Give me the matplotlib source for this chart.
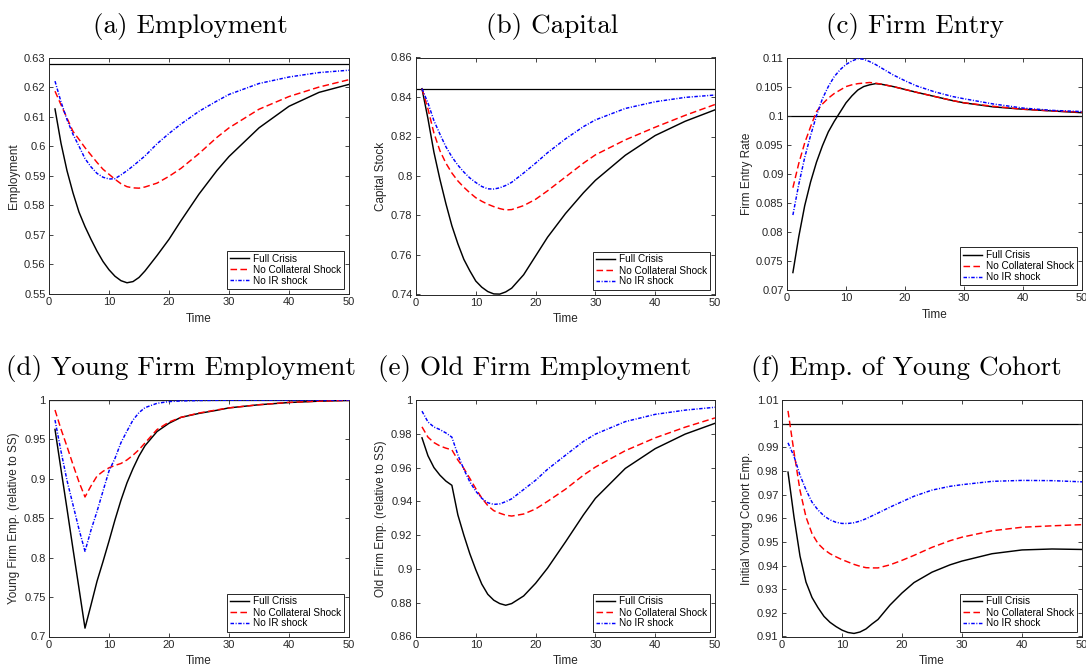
import matplotlib
matplotlib.use('Agg')
import matplotlib.pyplot as plt
from matplotlib.ticker import FuncFormatter

# ---------------- data ----------------
T = [1, 2, 3, 4, 5, 6, 7, 8, 9, 10, 11, 12, 13, 14, 15, 16, 18, 20, 22, 25, 28, 30, 35, 40, 45, 50]

# (a) Employment
emp_full = [0.6126, 0.6010, 0.5917, 0.5842, 0.5777, 0.5728, 0.5685, 0.5645, 0.5610, 0.5582, 0.5560, 0.5545, 0.5538,
            0.5542, 0.5556, 0.5578, 0.5630, 0.5685, 0.5748, 0.5838, 0.5918, 0.5965, 0.6062, 0.6135, 0.6182, 0.6209]
emp_nocol = [0.6186, 0.6140, 0.6095, 0.6050, 0.6023, 0.5995, 0.5970, 0.5945, 0.5922, 0.5905, 0.5888, 0.5873, 0.5863,
             0.5859, 0.5858, 0.5862, 0.5875, 0.5898, 0.5925, 0.5975, 0.6030, 0.6062, 0.6125, 0.6168, 0.6200, 0.6225]
emp_noir = [0.6220, 0.6150, 0.6090, 0.6040, 0.6000, 0.5958, 0.5930, 0.5908, 0.5895, 0.5889, 0.5890, 0.5903, 0.5917,
            0.5933, 0.5950, 0.5967, 0.6008, 0.6043, 0.6075, 0.6118, 0.6153, 0.6175, 0.6212, 0.6234, 0.6249, 0.6257]

# (b) Capital
cap_full = [0.8442, 0.8290, 0.8120, 0.7983, 0.7860, 0.7748, 0.7657, 0.7578, 0.7520, 0.7468, 0.7437, 0.7415, 0.7403,
            0.7402, 0.7413, 0.7432, 0.7500, 0.7595, 0.7690, 0.7810, 0.7915, 0.7978, 0.8105, 0.8205, 0.8277, 0.8335]
cap_nocol = [0.8442, 0.8340, 0.8217, 0.8128, 0.8065, 0.8015, 0.7975, 0.7943, 0.7915, 0.7890, 0.7872, 0.7857, 0.7845,
             0.7835, 0.7828, 0.7830, 0.7850, 0.7882, 0.7925, 0.7995, 0.8065, 0.8107, 0.8183, 0.8247, 0.8307, 0.8362]
cap_noir = [0.8442, 0.8370, 0.8280, 0.8212, 0.8148, 0.8097, 0.8055, 0.8020, 0.7990, 0.7967, 0.7947, 0.7935, 0.7934,
            0.7940, 0.7952, 0.7968, 0.8015, 0.8065, 0.8118, 0.8188, 0.8250, 0.8284, 0.8342, 0.8376, 0.8398, 0.8410]

# (c) Firm Entry
ent_full = [0.0730, 0.0792, 0.0845, 0.0886, 0.0920, 0.0948, 0.0972, 0.0990, 0.1006, 0.1022, 0.1034, 0.1044, 0.1050,
            0.1053, 0.1055, 0.1054, 0.1050, 0.1045, 0.1040, 0.1033, 0.1026, 0.1022, 0.1015, 0.1011, 0.1008, 0.1005]
ent_nocol = [0.0876, 0.0918, 0.0953, 0.0981, 0.1007, 0.1020, 0.1030, 0.1038, 0.1044, 0.1050, 0.1053, 0.1055, 0.1056,
             0.1057, 0.1056, 0.1054, 0.1050, 0.1045, 0.1040, 0.1033, 0.1026, 0.1022, 0.1016, 0.1011, 0.1008, 0.1006]
ent_noir = [0.0829, 0.0882, 0.0928, 0.0966, 0.1000, 0.1029, 0.1050, 0.1067, 0.1079, 0.1088, 0.1094, 0.1098, 0.1097,
            0.1093, 0.1088, 0.1082, 0.1070, 0.1060, 0.1051, 0.1041, 0.1033, 0.1029, 0.1020, 0.1013, 0.1009, 0.1007]

# (d) Young Firm Employment
yng_full = [0.9627, 0.912, 0.862, 0.811, 0.761, 0.7106, 0.740, 0.770, 0.795, 0.821, 0.848, 0.873, 0.895,
            0.913, 0.929, 0.942, 0.960, 0.9705, 0.978, 0.983, 0.987, 0.990, 0.994, 0.9968, 0.9985, 0.9995]
yng_nocol = [0.9873, 0.963, 0.941, 0.918, 0.896, 0.877, 0.891, 0.9035, 0.9095, 0.914, 0.917, 0.9195, 0.924,
             0.930, 0.937, 0.9455, 0.9625, 0.972, 0.978, 0.9835, 0.9875, 0.990, 0.994, 0.997, 0.9985, 0.9995]
yng_noir = [0.9746, 0.935, 0.898, 0.867, 0.836, 0.808, 0.835, 0.8586, 0.8845, 0.910, 0.926, 0.946, 0.9606,
            0.9746, 0.984, 0.9903, 0.9958, 0.998, 0.9988, 0.9993, 0.9996, 0.9997, 0.9998, 0.9999, 0.9999, 0.9999]

# (e) Old Firm Employment
old_full = [0.9776, 0.967, 0.960, 0.9555, 0.952, 0.9495, 0.932, 0.920, 0.909, 0.8995, 0.891, 0.885, 0.8815,
            0.8795, 0.8785, 0.8795, 0.884, 0.8915, 0.9005, 0.9160, 0.9320, 0.9418, 0.9595, 0.9712, 0.9798, 0.9862]
old_nocol = [0.9841, 0.978, 0.9748, 0.9728, 0.9715, 0.9705, 0.9645, 0.9595, 0.9536, 0.9475, 0.9420, 0.9375, 0.9345,
             0.9330, 0.9318, 0.9313, 0.9325, 0.9355, 0.9400, 0.9472, 0.9555, 0.9603, 0.9700, 0.9776, 0.9839, 0.9894]
old_noir = [0.9934, 0.987, 0.9840, 0.9825, 0.9805, 0.9780, 0.9675, 0.9590, 0.9515, 0.9460, 0.9418, 0.9392, 0.9382,
            0.9385, 0.9398, 0.9415, 0.9470, 0.9525, 0.9590, 0.9673, 0.9755, 0.9798, 0.9872, 0.9915, 0.9940, 0.9957]

# (f) Emp. of Young Cohort
coh_full = [0.9795, 0.9605, 0.9440, 0.9330, 0.9265, 0.9222, 0.9185, 0.9160, 0.9142, 0.9127, 0.9117, 0.9113, 0.9119,
            0.9132, 0.9153, 0.9172, 0.9233, 0.9284, 0.9328, 0.9372, 0.9403, 0.9419, 0.9450, 0.9466, 0.9470, 0.9468]
coh_nocol = [1.0054, 0.9880, 0.9718, 0.9605, 0.9535, 0.9493, 0.9468, 0.9450, 0.9437, 0.9425, 0.9415, 0.9405, 0.9397,
             0.9391, 0.9390, 0.9390, 0.9403, 0.9422, 0.9443, 0.9477, 0.9505, 0.9520, 0.9547, 0.9562, 0.9568, 0.9573]
coh_noir = [0.9919, 0.9862, 0.9782, 0.9720, 0.9668, 0.9635, 0.9610, 0.9593, 0.9583, 0.9578, 0.9578, 0.9581, 0.9588,
            0.9598, 0.9610, 0.9622, 0.9647, 0.9670, 0.9693, 0.9719, 0.9735, 0.9742, 0.9756, 0.9760, 0.9759, 0.9754]

steady_state = [0.6277, 0.8442, 0.1, 1.0, None, 1.0]

titles = ["(a) Employment", "(b) Capital", "(c) Firm Entry",
          "(d) Young Firm Employment", "(e) Old Firm Employment", "(f) Emp. of Young Cohort"]
ylabels = ["Employment", "Capital Stock", "Firm Entry Rate",
           "Young Firm Emp. (relative to SS)", "Old Firm Emp. (relative to SS)", "Initial Young Cohort Emp."]
legend_labels = ["Full Crisis", "No Collateral Shock", "No IR shock"]
xticks = [0, 10, 20, 30, 40, 50]
yticks = [
    [0.55, 0.56, 0.57, 0.58, 0.59, 0.60, 0.61, 0.62, 0.63],
    [0.74, 0.76, 0.78, 0.80, 0.82, 0.84, 0.86],
    [0.07, 0.075, 0.08, 0.085, 0.09, 0.095, 0.10, 0.105, 0.11],
    [0.70, 0.75, 0.80, 0.85, 0.90, 0.95, 1.00],
    [0.86, 0.88, 0.90, 0.92, 0.94, 0.96, 0.98, 1.00],
    [0.91, 0.92, 0.93, 0.94, 0.95, 0.96, 0.97, 0.98, 0.99, 1.00, 1.01],
]
series = [
    (emp_full, emp_nocol, emp_noir),
    (cap_full, cap_nocol, cap_noir),
    (ent_full, ent_nocol, ent_noir),
    (yng_full, yng_nocol, yng_noir),
    (old_full, old_nocol, old_noir),
    (coh_full, coh_nocol, coh_noir),
]

# ---------------- style ----------------
W, H = 1086, 666
plt.rcParams['font.family'] = ['Liberation Sans', 'DejaVu Sans']
plt.rcParams['font.size'] = 8
dark = '#262626'

fig = plt.figure(figsize=(W / 100, H / 100), dpi=100)

# axes rectangles in pixels: x0, x1, ytop, ybottom
rects = [
    (49, 349, 57.5, 294),
    (416, 715, 57.5, 294.5),
    (787, 1082, 57.5, 290),
    (49, 349, 400, 636.5),
    (416, 715, 400, 636.5),
    (782, 1082, 400, 636.5),
]
title_pos = [(190.5, 33), (552, 33), (915, 33), (181, 375), (535, 375), (906, 375)]
ylabel_x = [14, 381, 747, 14, 381, 747]
xlabel_y = [319, 319, 315, 661, 661, 661]

for i in range(6):
    x0, x1, yt, yb = rects[i]
    ax = fig.add_axes([x0 / W, 1 - yb / H, (x1 - x0) / W, (yb - yt) / H])
    full, nocol, noir = series[i]
    if steady_state[i] is not None:
        ax.axhline(steady_state[i], color='k', lw=0.9, zorder=1)
    ax.plot(T, full, color='k', lw=1.05, label=legend_labels[0], zorder=3)
    ax.plot(T, nocol, color=(1, 0, 0), lw=1.05, dashes=(4.5, 2.3), label=legend_labels[1], zorder=4)
    ax.plot(T, noir, color=(0, 0, 1), lw=1.05, dashes=(2.4, 1.1, 0.7, 1.1), label=legend_labels[2], zorder=5)

    ax.set_xlim(0, 50)
    ax.set_ylim(yticks[i][0], yticks[i][-1])
    ax.set_xticks(xticks)
    ax.set_yticks(yticks[i])
    ax.yaxis.set_major_formatter(FuncFormatter(lambda v, p: ('%g' % round(v, 4))))
    ax.tick_params(direction='in', top=True, right=True, length=3, width=0.6,
                   colors=dark, labelsize=8, pad=2.5)
    for s in ax.spines.values():
        s.set_color(dark)
        s.set_linewidth(0.7)

    leg = ax.legend(loc='lower right', fontsize=7.2, handlelength=1.85, handletextpad=0.4,
                    borderpad=0.3, labelspacing=0.1, borderaxespad=0.5,
                    fancybox=False, framealpha=1, edgecolor=dark)
    leg.get_frame().set_linewidth(0.7)

    fig.text((x0 + x1) / 2 / W, 1 - xlabel_y[i] / H, 'Time', ha='center', va='center',
             fontsize=8.5, color=dark)
    fig.text(ylabel_x[i] / W, 1 - (yt + yb) / 2 / H, ylabels[i], ha='center', va='center',
             rotation=90, fontsize=8.5, color=dark)
    fig.text(title_pos[i][0] / W, 1 - title_pos[i][1] / H, titles[i], ha='center', va='baseline',
             fontsize=19.5, family='cmr10', color='black')

fig.savefig('out.png', dpi=100)
